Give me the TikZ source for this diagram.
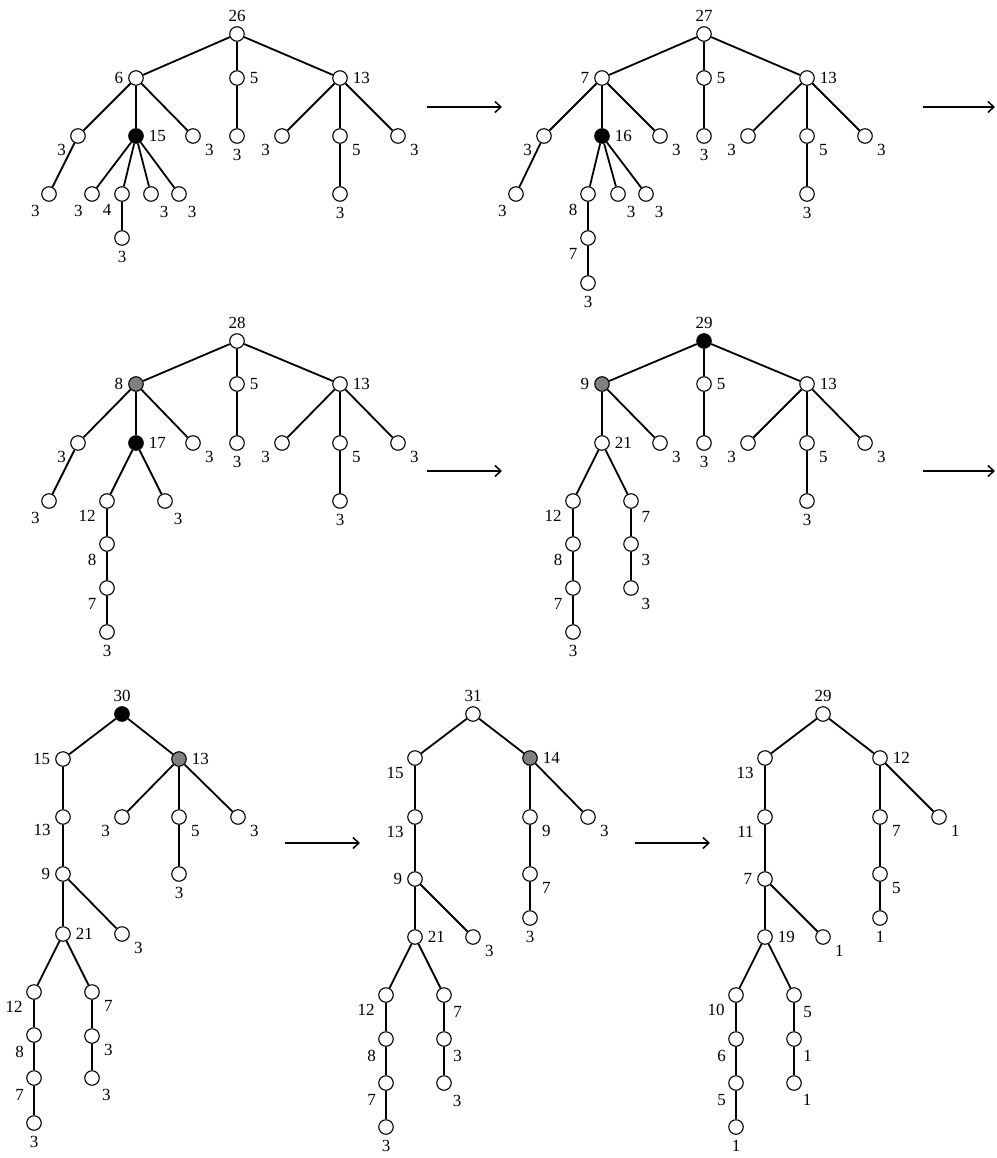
\documentclass[tikz,border=0pt]{standalone}
\usepackage{fontspec}
\setmainfont{Liberation Serif}
\usetikzlibrary{arrows.meta}
\begin{document}
\begin{tikzpicture}[x=1pt,y=-1pt,
  font=\fontsize{17}{20}\selectfont,
  every label/.style={inner sep=4.8pt},
  wnode/.style={circle,draw,line width=1.1pt,minimum size=14.5pt,inner sep=0pt,fill=white},
  bnode/.style={wnode,fill=black},
  gnode/.style={wnode,fill=gray},
  tedge/.style={line width=1.8pt},
  flowarrow/.style={line width=1.8pt,-{Straight Barb[length=6pt,width=11pt,line width=1.5pt]}}]
\useasboundingbox (0,0) rectangle (996,1158);
% ---------------- tree 1
\node[wnode,label=90:26] (t1r) at (237,34) {};
\node[wnode,label=180:6] (t1a) at (136,78) {};
\node[wnode,label=0:5] (t1b) at (237,78) {};
\node[wnode,label=0:13] (t1c) at (340,78) {};
\node[wnode,label=205:3] (t1a1) at (78,136) {};
\node[bnode,label=0:15] (t1a2) at (136,136) {};
\node[wnode,label=-25:3] (t1a3) at (193,136) {};
\node[wnode,label=270:3] (t1b1) at (237,136) {};
\node[wnode,label=205:3] (t1c1) at (282,136) {};
\node[wnode,label=-25:5] (t1c2) at (340,136) {};
\node[wnode,label=-25:3] (t1c3) at (398,136) {};
\node[wnode,label=235:3] (t1a11) at (49,194) {};
\node[wnode,label=235:3] (t1a21) at (92,194) {};
\node[wnode,label=225:4] (t1a22) at (122,194) {};
\node[wnode,label=300:3] (t1a23) at (151,194) {};
\node[wnode,label=300:3] (t1a24) at (179,194) {};
\node[wnode,label=270:3] (t1c21) at (340,194) {};
\node[wnode,label=270:3] (t1a221) at (122,238) {};
\foreach \u/\w in {t1r/t1a,t1r/t1b,t1r/t1c,t1a/t1a1,t1a/t1a2,t1a/t1a3,t1b/t1b1,
  t1c/t1c1,t1c/t1c2,t1c/t1c3,t1a1/t1a11,t1a2/t1a21,t1a2/t1a22,t1a2/t1a23,t1a2/t1a24,
  t1c2/t1c21,t1a22/t1a221}
  \draw[tedge] (\u) -- (\w);
% ---------------- tree 2
\node[wnode,label=90:27] (t2r) at (704,34) {};
\node[wnode,label=180:7] (t2a) at (602,78) {};
\node[wnode,label=0:5] (t2b) at (704,78) {};
\node[wnode,label=0:13] (t2c) at (807,78) {};
\node[wnode,label=205:3] (t2a1) at (544,136) {};
\node[bnode,label=0:16] (t2a2) at (602,136) {};
\node[wnode,label=-25:3] (t2a3) at (660,136) {};
\node[wnode,label=270:3] (t2b1) at (704,136) {};
\node[wnode,label=205:3] (t2c1) at (748,136) {};
\node[wnode,label=-25:5] (t2c2) at (807,136) {};
\node[wnode,label=-25:3] (t2c3) at (865,136) {};
\node[wnode,label=235:3] (t2a11) at (516,194) {};
\node[wnode,label=225:8] (t2a21) at (588,194) {};
\node[wnode,label=300:3] (t2a22) at (618,194) {};
\node[wnode,label=300:3] (t2a23) at (646,194) {};
\node[wnode,label=270:3] (t2c21) at (807,194) {};
\node[wnode,label=225:7] (t2a211) at (588,238) {};
\node[wnode,label=270:3] (t2a2111) at (588,283) {};
\foreach \u/\w in {t2r/t2a,t2r/t2b,t2r/t2c,t2a/t2a1,t2a/t2a2,t2a/t2a3,t2b/t2b1,
  t2c/t2c1,t2c/t2c2,t2c/t2c3,t2a1/t2a11,t2a2/t2a21,t2a2/t2a22,t2a2/t2a23,
  t2c2/t2c21,t2a21/t2a211,t2a211/t2a2111}
  \draw[tedge] (\u) -- (\w);
% ---------------- tree 3
\node[wnode,label=90:28] (t3r) at (237,341) {};
\node[gnode,label=180:8] (t3a) at (136,384) {};
\node[wnode,label=0:5] (t3b) at (237,384) {};
\node[wnode,label=0:13] (t3c) at (340,384) {};
\node[wnode,label=205:3] (t3a1) at (78,443) {};
\node[bnode,label=0:17] (t3a2) at (136,443) {};
\node[wnode,label=-25:3] (t3a3) at (193,443) {};
\node[wnode,label=270:3] (t3b1) at (237,443) {};
\node[wnode,label=205:3] (t3c1) at (282,443) {};
\node[wnode,label=-25:5] (t3c2) at (340,443) {};
\node[wnode,label=-25:3] (t3c3) at (398,443) {};
\node[wnode,label=235:3] (t3a11) at (49,501) {};
\node[wnode,label=215:12] (t3a21) at (107,501) {};
\node[wnode,label=300:3] (t3a22) at (165,501) {};
\node[wnode,label=270:3] (t3c21) at (340,501) {};
\node[wnode,label=225:8] (t3a211) at (107,544) {};
\node[wnode,label=225:7] (t3a2111) at (107,588) {};
\node[wnode,label=270:3] (t3a21111) at (107,632) {};
\foreach \u/\w in {t3r/t3a,t3r/t3b,t3r/t3c,t3a/t3a1,t3a/t3a2,t3a/t3a3,t3b/t3b1,
  t3c/t3c1,t3c/t3c2,t3c/t3c3,t3a1/t3a11,t3a2/t3a21,t3a2/t3a22,t3c2/t3c21,
  t3a21/t3a211,t3a211/t3a2111,t3a2111/t3a21111}
  \draw[tedge] (\u) -- (\w);
% ---------------- tree 4
\node[bnode,label=90:29] (t4r) at (704,341) {};
\node[gnode,label=180:9] (t4a) at (602,384) {};
\node[wnode,label=0:5] (t4b) at (704,384) {};
\node[wnode,label=0:13] (t4c) at (807,384) {};
\node[wnode,label=0:21] (t4a1) at (602,443) {};
\node[wnode,label=-25:3] (t4a2) at (660,443) {};
\node[wnode,label=270:3] (t4b1) at (704,443) {};
\node[wnode,label=205:3] (t4c1) at (748,443) {};
\node[wnode,label=-25:5] (t4c2) at (807,443) {};
\node[wnode,label=-25:3] (t4c3) at (865,443) {};
\node[wnode,label=215:12] (t4a11) at (573,501) {};
\node[wnode,label=-45:7] (t4a12) at (631,501) {};
\node[wnode,label=270:3] (t4c21) at (807,501) {};
\node[wnode,label=225:8] (t4a111) at (573,544) {};
\node[wnode,label=-45:3] (t4a121) at (631,544) {};
\node[wnode,label=225:7] (t4a1111) at (573,588) {};
\node[wnode,label=-45:3] (t4a1211) at (631,588) {};
\node[wnode,label=270:3] (t4a11111) at (573,632) {};
\foreach \u/\w in {t4r/t4a,t4r/t4b,t4r/t4c,t4a/t4a1,t4a/t4a2,t4b/t4b1,
  t4c/t4c1,t4c/t4c2,t4c/t4c3,t4a1/t4a11,t4a1/t4a12,t4c2/t4c21,
  t4a11/t4a111,t4a111/t4a1111,t4a1111/t4a11111,t4a12/t4a121,t4a121/t4a1211}
  \draw[tedge] (\u) -- (\w);
% ---------------- tree 5
\node[bnode,label=90:30] (t5r) at (122,714) {};
\node[wnode,label=180:15] (t5a) at (63,759) {};
\node[gnode,label=0:13] (t5b) at (179,759) {};
\node[wnode,label=200:13] (t5a1) at (63,817) {};
\node[wnode,label=205:3] (t5b1) at (122,817) {};
\node[wnode,label=-25:5] (t5b2) at (179,817) {};
\node[wnode,label=-25:3] (t5b3) at (238,817) {};
\node[wnode,label=180:9] (t5a11) at (63,874) {};
\node[wnode,label=270:3] (t5b21) at (179,874) {};
\node[wnode,label=0:21] (t5a111) at (63,934) {};
\node[wnode,label=-25:3] (t5a112) at (122,934) {};
\node[wnode,label=215:12] (t5c1) at (34,992) {};
\node[wnode,label=-25:7] (t5d1) at (92,992) {};
\node[wnode,label=230:8] (t5c2) at (34,1035) {};
\node[wnode,label=-25:3] (t5d2) at (92,1036) {};
\node[wnode,label=230:7] (t5c3) at (34,1078) {};
\node[wnode,label=-50:3] (t5d3) at (92,1078) {};
\node[wnode,label=270:3] (t5c4) at (34,1123) {};
\foreach \u/\w in {t5r/t5a,t5r/t5b,t5a/t5a1,t5a1/t5a11,t5a11/t5a111,t5a11/t5a112,
  t5b/t5b1,t5b/t5b2,t5b/t5b3,t5b2/t5b21,t5a111/t5c1,t5a111/t5d1,
  t5c1/t5c2,t5c2/t5c3,t5c3/t5c4,t5d1/t5d2,t5d2/t5d3}
  \draw[tedge] (\u) -- (\w);
% ---------------- tree 6
\node[wnode,label=90:31] (t6r) at (473,714) {};
\node[wnode,label=215:15] (t6a) at (415,758) {};
\node[gnode,label=0:14] (t6b) at (530,758) {};
\node[wnode,label=215:13] (t6a1) at (415,817) {};
\node[wnode,label=-25:9] (t6b1) at (530,817) {};
\node[wnode,label=-25:3] (t6b2) at (588,817) {};
\node[wnode,label=180:9] (t6a11) at (415,879) {};
\node[wnode,label=-25:7] (t6b11) at (530,874) {};
\node[wnode,label=270:3] (t6b111) at (530,918) {};
\node[wnode,label=0:21] (t6a111) at (415,937) {};
\node[wnode,label=-25:3] (t6a112) at (473,937) {};
\node[wnode,label=215:12] (t6c1) at (386,995) {};
\node[wnode,label=-55:7] (t6d1) at (444,995) {};
\node[wnode,label=230:8] (t6c2) at (386,1039) {};
\node[wnode,label=-55:3] (t6d2) at (444,1039) {};
\node[wnode,label=230:7] (t6c3) at (386,1083) {};
\node[wnode,label=-60:3] (t6d3) at (444,1083) {};
\node[wnode,label=270:3] (t6c4) at (386,1127) {};
\foreach \u/\w in {t6r/t6a,t6r/t6b,t6a/t6a1,t6a1/t6a11,t6a11/t6a111,t6a11/t6a112,
  t6b/t6b1,t6b/t6b2,t6b1/t6b11,t6b11/t6b111,t6a111/t6c1,t6a111/t6d1,
  t6c1/t6c2,t6c2/t6c3,t6c3/t6c4,t6d1/t6d2,t6d2/t6d3}
  \draw[tedge] (\u) -- (\w);
% ---------------- tree 7
\node[wnode,label=90:29] (t7r) at (823,714) {};
\node[wnode,label=215:13] (t7a) at (765,758) {};
\node[wnode,label=0:12] (t7b) at (880,758) {};
\node[wnode,label=215:11] (t7a1) at (765,817) {};
\node[wnode,label=-25:7] (t7b1) at (880,817) {};
\node[wnode,label=-25:1] (t7b2) at (939,817) {};
\node[wnode,label=180:7] (t7a11) at (765,879) {};
\node[wnode,label=-25:5] (t7b11) at (880,874) {};
\node[wnode,label=270:1] (t7b111) at (880,918) {};
\node[wnode,label=0:19] (t7a111) at (765,937) {};
\node[wnode,label=-25:1] (t7a112) at (823,937) {};
\node[wnode,label=215:10] (t7c1) at (736,995) {};
\node[wnode,label=-55:5] (t7d1) at (794,995) {};
\node[wnode,label=230:6] (t7c2) at (736,1039) {};
\node[wnode,label=-55:1] (t7d2) at (794,1039) {};
\node[wnode,label=230:5] (t7c3) at (736,1083) {};
\node[wnode,label=-60:1] (t7d3) at (794,1083) {};
\node[wnode,label=270:1] (t7c4) at (736,1127) {};
\foreach \u/\w in {t7r/t7a,t7r/t7b,t7a/t7a1,t7a1/t7a11,t7a11/t7a111,t7a11/t7a112,
  t7b/t7b1,t7b/t7b2,t7b1/t7b11,t7b11/t7b111,t7a111/t7c1,t7a111/t7d1,
  t7c1/t7c2,t7c2/t7c3,t7c3/t7c4,t7d1/t7d2,t7d2/t7d3}
  \draw[tedge] (\u) -- (\w);
% ---------------- arrows
\coordinate (a1s) at (427,107); \coordinate (a1e) at (502,107);
\coordinate (a2s) at (923,107); \coordinate (a2e) at (995,107);
\coordinate (a3s) at (427,471); \coordinate (a3e) at (502,471);
\coordinate (a4s) at (923,471); \coordinate (a4e) at (995,471);
\coordinate (a5s) at (285,843); \coordinate (a5e) at (360,843);
\coordinate (a6s) at (635,843); \coordinate (a6e) at (710,843);
\foreach \s/\t in {a1s/a1e,a2s/a2e,a3s/a3e,a4s/a4e,a5s/a5e,a6s/a6e}
  \draw[flowarrow] (\s) -- (\t);
\end{tikzpicture}
\end{document}
